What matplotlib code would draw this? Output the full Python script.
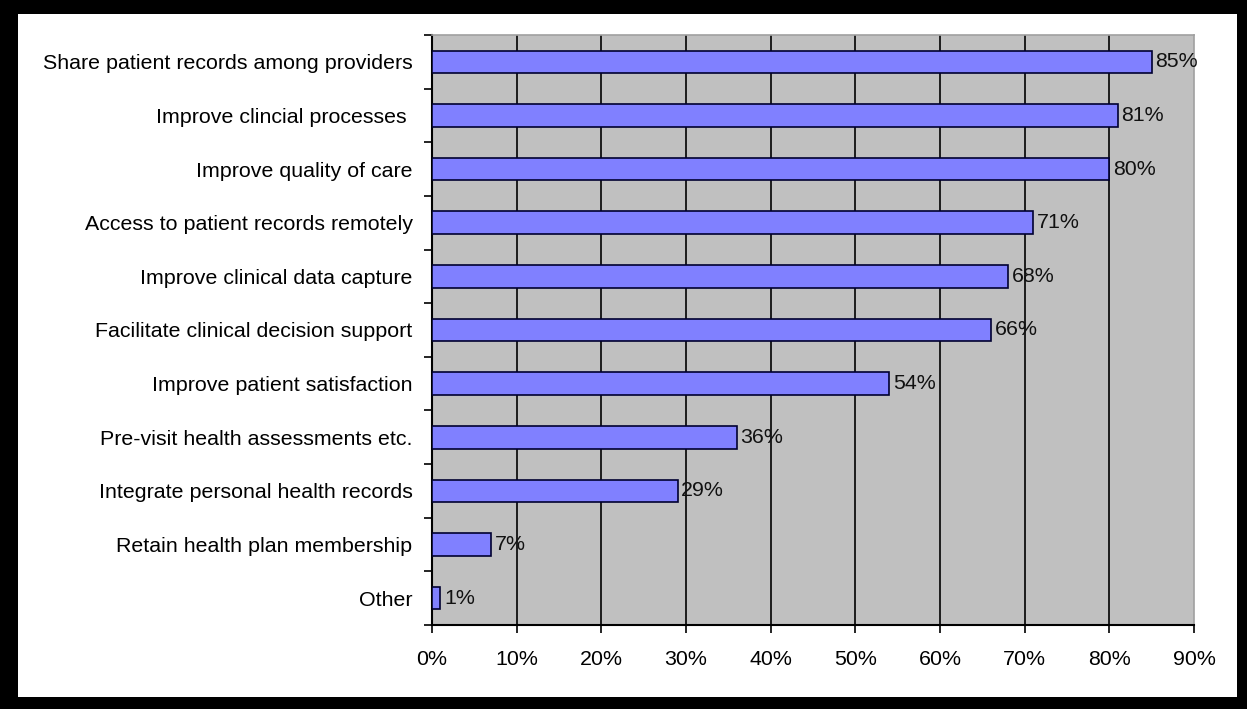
import matplotlib
matplotlib.use("Agg")
import matplotlib.pyplot as plt
from matplotlib.patches import Rectangle
from matplotlib.ticker import FixedLocator

categories = [
    "Share patient records among providers",
    "Improve clincial processes ",
    "Improve quality of care",
    "Access to patient records remotely",
    "Improve clinical data capture",
    "Facilitate clinical decision support",
    "Improve patient satisfaction",
    "Pre-visit health assessments etc.",
    "Integrate personal health records",
    "Retain health plan membership",
    "Other",
]
values = [85, 81, 80, 71, 68, 66, 54, 36, 29, 7, 1]
xticks = [0, 10, 20, 30, 40, 50, 60, 70, 80, 90]

plt.rcParams['font.family'] = ['Liberation Sans', 'DejaVu Sans']
FS = 15.4

W, H = 1247, 709
fig = plt.figure(figsize=(W / 100, H / 100), dpi=100)
fig.patch.set_facecolor('white')
# black frame
fig.patches.append(Rectangle((0, 0), 1, 1, transform=fig.transFigure,
                             facecolor='black', edgecolor='none', zorder=-10))
fig.patches.append(Rectangle((18 / W, 12 / H), (1237 - 18) / W, (697 - 14) / H,
                             transform=fig.transFigure, facecolor='white',
                             edgecolor='none', zorder=-9))

ax = fig.add_axes([432 / W, 1 - 625 / H, (1194 - 432) / W, (625 - 35) / H])
ax.set_facecolor('#C0C0C0')

n = len(categories)
ypos = list(range(n))
ax.barh(ypos, values, height=0.42, color='#8080FF', edgecolor='#000030',
        linewidth=1.2, zorder=3)
for y, v in zip(ypos, values):
    ax.text(v + 0.45, y, f"{v}%", va='center', ha='left', fontsize=FS,
            color='#111111', zorder=4)

ax.set_xlim(0, 90)
ax.set_ylim(n - 0.5, -0.5)
ax.set_xticks(xticks)
ax.set_xticklabels([f"{t}%" for t in xticks], fontsize=FS)
ax.set_yticks(ypos)
ax.set_yticklabels(categories, fontsize=FS)
ax.yaxis.set_minor_locator(FixedLocator([i - 0.5 for i in range(n + 1)]))
ax.tick_params(axis='y', which='major', length=0, pad=14)
ax.tick_params(axis='y', which='minor', length=6, width=1.2, color='black', direction='out')
ax.tick_params(axis='x', which='major', length=6, width=1.2, color='black', direction='out', pad=12)

for t in xticks[1:-1]:
    ax.axvline(t, color='black', linewidth=1.2, zorder=1)

for s in ['left', 'bottom']:
    ax.spines[s].set_color('black')
    ax.spines[s].set_linewidth(1.5)
for s in ['top', 'right']:
    ax.spines[s].set_color('#A0A0A0')
    ax.spines[s].set_linewidth(1.2)

fig.savefig('out.png', dpi=100, facecolor=fig.get_facecolor())
